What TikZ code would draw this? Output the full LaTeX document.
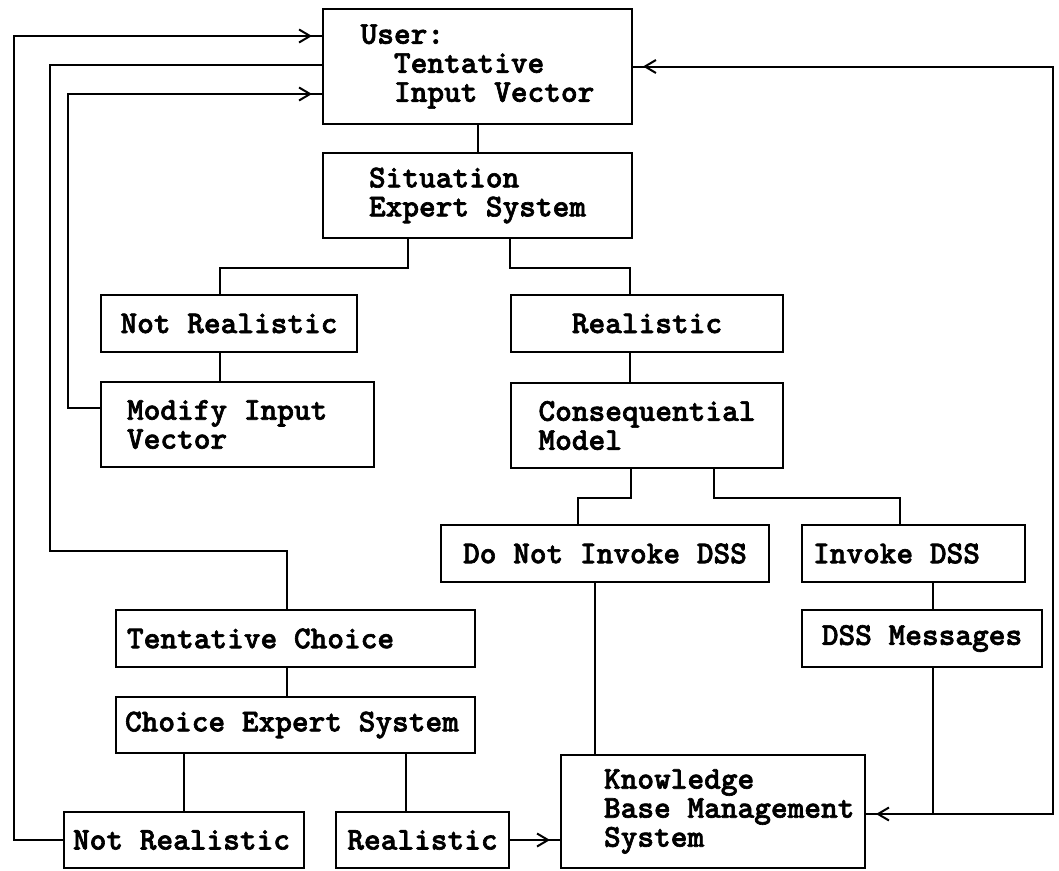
\documentclass[tikz,border=0pt]{standalone}
\usepackage{fontspec}
\newfontfamily\boxfont{lmmonolt10-bold}[Extension=.otf,FakeBold=2]
\usetikzlibrary{arrows.meta,decorations.markings}

\begin{document}
\begin{tikzpicture}[x=1pt,y=-1pt,line width=2pt,
				box node/.style = {draw,align=flush left,inner ysep=0pt,font=\boxfont\fontsize{31.8}{29}\selectfont\bfseries},
				chev/.style = {postaction={decorate},decoration={markings,
					mark=at position -10pt with {\arrow{Straight Barb[length=11pt,width=13pt]}}}}]
				
				\useasboundingbox (0,0) rectangle (1059,870);
				
				\node[box node,minimum width=309pt,minimum height=115pt] at (477.5,66.5) (usr) {User:\\~~Tentative\\~~Input Vector};
				\node[box node,minimum width=309pt,minimum height=85pt] at (477.5,195.5) (sit) {Situation\\Expert System};
				\node[box node,minimum width=256pt,minimum height=57pt] at (229,323.5) (nrA) {Not Realistic};
				\node[box node,minimum width=272pt,minimum height=57pt] at (647,323.5) (rlA) {Realistic};
				\node[box node,text width=221pt,inner xsep=26pt,minimum height=85pt] at (237.5,424.5) (mod) {Modify Input\\Vector};
				\node[box node,minimum width=272pt,minimum height=85pt] at (647,425.5) (csq) {Consequential\\Model};
				\node[box node,minimum width=328pt,minimum height=57pt] at (605,553.5) (dni) {Do Not Invoke DSS};
				\node[box node,text width=201pt,inner xsep=11pt,minimum height=57pt] at (913.5,553.5) (inv) {Invoke DSS};
				\node[box node,text width=337pt,inner xsep=11pt,minimum height=57pt] at (295.5,638.5) (tc) {Tentative Choice};
				\node[box node,minimum width=240pt,minimum height=57pt] at (922,638.5) (dsm) {DSS Messages};
				\node[box node,text width=341pt,inner xsep=9pt,minimum height=56pt] at (295.5,725) (ces) {Choice Expert System};
				\node[box node,text width=290pt,inner xsep=7pt,minimum height=113pt] at (713,811.5) (kb) {\hspace*{36pt}Knowledge\\\hspace*{36pt}Base Management\\\hspace*{36pt}System};
				\node[box node,text width=222pt,inner xsep=9pt,minimum height=56pt] at (184,840) (nrB) {Not Realistic};
				\node[box node,minimum width=173pt,minimum height=56pt] at (422.5,840) (rlB) {Realistic};
				
				% situation check
				\draw (usr) -- (sit);
				\draw ([xshift=-69.5pt]sit.south) -- ++(0,29) -| ([xshift=-9pt]nrA.north);
				\draw ([xshift=32.5pt]sit.south) -- ++(0,29) -| ([xshift=-17pt]rlA.north);
				\draw ([xshift=-9pt]nrA.south) -- ([xshift=-17.5pt]mod.north);
				\draw ([xshift=-17pt]rlA.south) -- ([xshift=-17pt]csq.north);
				\draw[chev] ([yshift=16.5pt]mod.west) -- ++(-32,0) |- ([yshift=-27.5pt]usr.west);
				
				% consequential model
				\draw ([xshift=-16pt]csq.south) -- ++(0,29) -| ([xshift=-27pt]dni.north);
				\draw ([xshift=67pt]csq.south) -- ++(0,29) -| ([xshift=-13.5pt]inv.north);
				\draw ([xshift=19.5pt]inv.south) -- ([xshift=11pt]dsm.north);
				\draw ([xshift=-10pt]dni.south) -- ([xshift=-118pt]kb.north);
				\draw[chev] ([xshift=11pt]dsm.south) |- ([yshift=-2.5pt]kb.east) coordinate[pos=0.5] (dj);
				\draw[chev] (dj) -- ++(120,0) |- (usr.east);
				
				% choice check
				\draw ([xshift=-8.5pt]tc.north) -- ++(0,-58) -- ++(-237,0) |- ([yshift=1.5pt]usr.west);
				\draw ([xshift=-8.5pt]tc.south) -- ([xshift=-8.5pt]ces.north);
				\draw ([xshift=-111.5pt]ces.south) -- (nrB);
				\draw ([xshift=110.5pt]ces.south) -- ([xshift=-16.5pt]rlB.north);
				\draw[chev] (nrB.west) -- ++(-49,0) |- ([yshift=30.5pt]usr.west);
				\draw[chev] (rlB.east) -- ([yshift=-28.5pt]kb.west);
				
				\end{tikzpicture}
\end{document}
